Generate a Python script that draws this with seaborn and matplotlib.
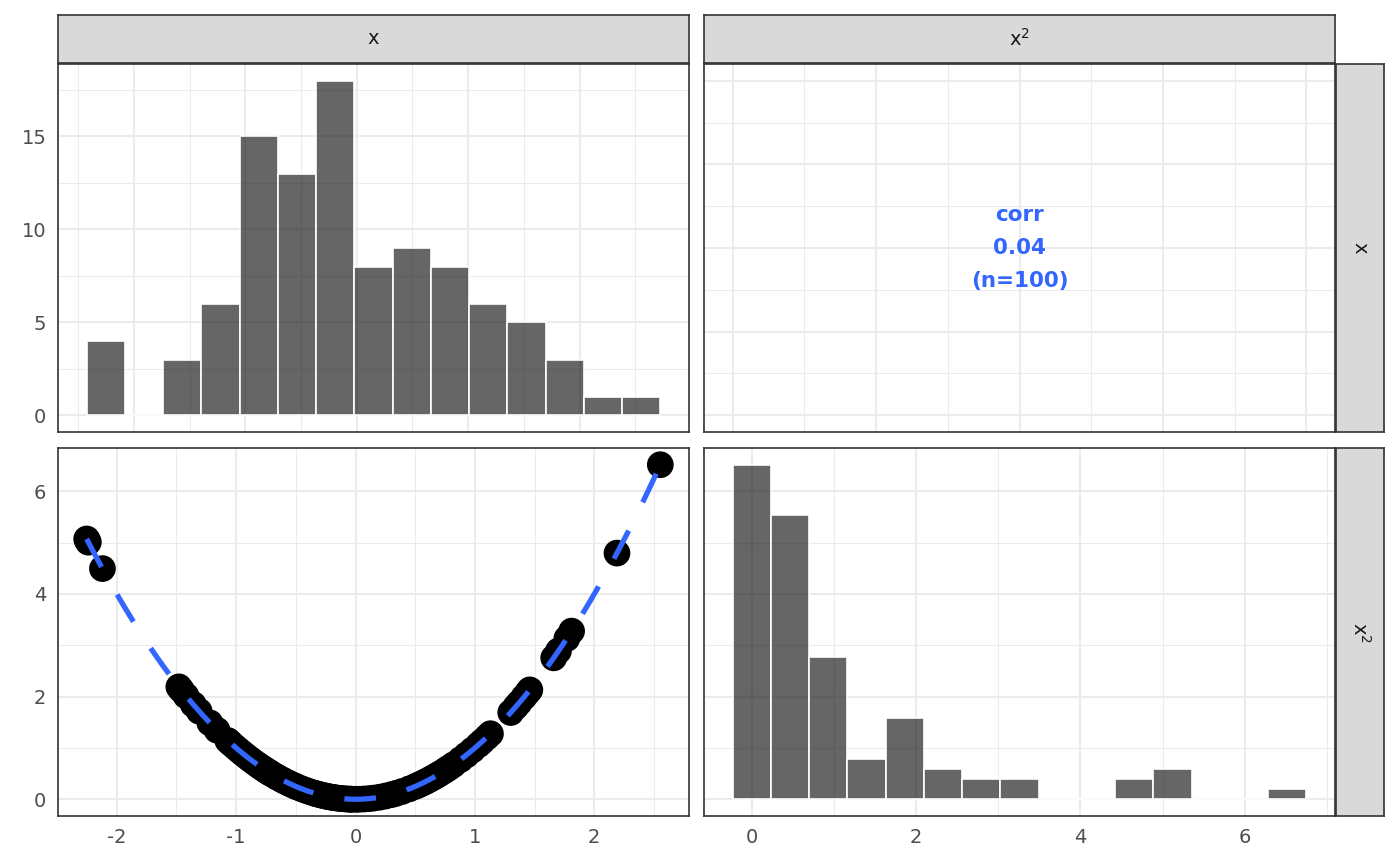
import numpy as np
import pandas as pd
import matplotlib
matplotlib.use("Agg")
import matplotlib.pyplot as plt
import seaborn as sns
from matplotlib.ticker import MultipleLocator

x_values = [
    -2.252, -2.246, -2.238, -2.12,
    -1.48, -1.46, -1.42,
    -1.36, -1.31, -1.22, -1.16, -1.07, -1.06,
    -1.04, -1.01, -0.98, -0.95, -0.92, -0.89, -0.86,
    -0.83, -0.81, -0.79, -0.77, -0.755, -0.74, -0.73, -0.715,
    -0.70, -0.67, -0.65, -0.62, -0.60, -0.57, -0.55, -0.52, -0.50,
    -0.47, -0.44, -0.41, -0.38,
    -0.35, -0.33, -0.31, -0.29, -0.27, -0.25, -0.23, -0.21, -0.19,
    -0.17, -0.15, -0.13, -0.11, -0.09, -0.07, -0.05, -0.04, -0.03,
    0.003, 0.03, 0.07, 0.11, 0.15, 0.20, 0.25, 0.30,
    0.34, 0.39, 0.45, 0.50, 0.53, 0.56, 0.59, 0.62, 0.65,
    0.68, 0.71, 0.75, 0.78, 0.82, 0.88, 0.93, 0.98,
    1.03, 1.06, 1.10, 1.13, 1.30, 1.34,
    1.37, 1.41, 1.44, 1.46, 1.66,
    1.70, 1.77, 1.81,
    2.19,
    2.553,
]
n_bins = 15
var_labels = ["x", r"$\mathregular{x^2}$"]
corr_text = "corr\n0.04\n(n=100)"

df = pd.DataFrame({"x": x_values})
df["x2"] = df["x"] ** 2

sns.set_style("white")
plt.rcParams["font.family"] = ["DejaVu Sans"]
plt.rcParams["axes.unicode_minus"] = False

GRID = "#EBEBEB"
BORDER = "#333333"
FS = 14

fig = plt.figure(figsize=(14, 8.66), dpi=100)
W, H = 1400, 866


def box(x0, y0, x1, y1):
    return [x0 / W, 1 - y1 / H, (x1 - x0) / W, (y1 - y0) / H]


ax_tl = fig.add_axes(box(58, 64, 689, 432))
ax_tr = fig.add_axes(box(704, 64, 1335, 432))
ax_bl = fig.add_axes(box(58, 448, 689, 816))
ax_br = fig.add_axes(box(704, 448, 1335, 816))


def expand(lo, hi, f=0.05):
    d = (hi - lo) * f
    return lo - d, hi + d


def bin_range(v):
    w = (v.max() - v.min()) / (n_bins - 1)
    return v.min() - w / 2, v.max() + w / 2


def style(ax, major, minor, xmajor, xminor):
    ax.yaxis.set_major_locator(MultipleLocator(major))
    ax.yaxis.set_minor_locator(MultipleLocator(minor))
    ax.xaxis.set_major_locator(MultipleLocator(xmajor))
    ax.xaxis.set_minor_locator(MultipleLocator(xminor))
    ax.grid(which="major", color=GRID, lw=1.5)
    ax.grid(which="minor", color=GRID, lw=0.75)
    ax.set_axisbelow(True)
    for s in ax.spines.values():
        s.set_color(BORDER)
        s.set_linewidth(1.2)
    ax.tick_params(which="major", length=4.8, width=1.3, color=BORDER,
                   labelsize=FS, labelcolor="#4D4D4D", pad=3.5)
    ax.tick_params(which="minor", length=0)
    ax.set_xlabel("")
    ax.set_ylabel("")


bar_kw = dict(color="black", alpha=0.6, edgecolor="white", linewidth=1.2)

# top-left: histogram of x
br_x = bin_range(df["x"])
sns.histplot(data=df, x="x", bins=n_bins, binrange=br_x, ax=ax_tl, **bar_kw)
style(ax_tl, 5, 2.5, 1, 0.5)
top_tl = max(p.get_height() for p in ax_tl.patches)
ax_tl.set_xlim(*expand(*br_x))
ax_tl.set_ylim(*expand(0, top_tl))
ax_tl.tick_params(axis="x", which="both", length=0, labelbottom=False)

# top-right: correlation text
ax_tr.set_xlim(-0.05, 1.05)
ax_tr.set_ylim(-0.05, 1.05)
style(ax_tr, 0.25, 0.125, 0.25, 0.125)
ax_tr.tick_params(which="both", length=0, labelbottom=False, labelleft=False)
ax_tr.text(0.5, 0.5, corr_text, ha="center", va="center", color="#3366FF",
           fontsize=15.5, fontweight="bold", linespacing=1.8)

# bottom-left: scatter + smooth
sns.scatterplot(data=df, x="x", y="x2", ax=ax_bl, color="black", s=370,
                edgecolor="none", linewidth=0, zorder=2)
sns.regplot(data=df, x="x", y="x2", ax=ax_bl, order=2, ci=None, scatter=False,
            line_kws=dict(color="#3366FF", lw=3.8, ls=(0, (6, 6)), zorder=3))
style(ax_bl, 2, 1, 1, 0.5)
ax_bl.set_xlim(*expand(df["x"].min(), df["x"].max()))
ylim_row2 = expand(df["x2"].min(), df["x2"].max())
ax_bl.set_ylim(*ylim_row2)

# bottom-right: histogram of x^2 on its own hidden count scale
br_x2 = bin_range(df["x2"])
ax_br.set_ylim(*ylim_row2)
style(ax_br, 2, 1, 2, 1)
ax_br.tick_params(axis="y", which="both", length=0, labelleft=False)
ax_cnt = ax_br.twinx()
sns.histplot(data=df, x="x2", bins=n_bins, binrange=br_x2, ax=ax_cnt, **bar_kw)
top_br = max(p.get_height() for p in ax_cnt.patches)
ax_cnt.set_ylim(*expand(0, top_br))
ax_cnt.set_yticks([])
ax_cnt.set_ylabel("")
for s in ax_cnt.spines.values():
    s.set_visible(False)
ax_br.set_xlim(*expand(*br_x2))
ax_br.set_xlabel("")

# strips
def strip(rect, label, rot):
    sa = fig.add_axes(box(*rect))
    sa.set_facecolor("#D9D9D9")
    sa.set_xticks([])
    sa.set_yticks([])
    for s in sa.spines.values():
        s.set_color(BORDER)
        s.set_linewidth(1.2)
    sa.text(0.5, 0.5, label, transform=sa.transAxes, ha="center", va="center",
            fontsize=FS, color="#1A1A1A", rotation=rot)


strip((58, 15, 689, 63), var_labels[0], 0)
strip((704, 15, 1335, 63), var_labels[1], 0)
strip((1336, 64, 1384, 432), var_labels[0], -90)
strip((1336, 448, 1384, 816), var_labels[1], -90)

fig.savefig("out.png", dpi=100, facecolor="white")
